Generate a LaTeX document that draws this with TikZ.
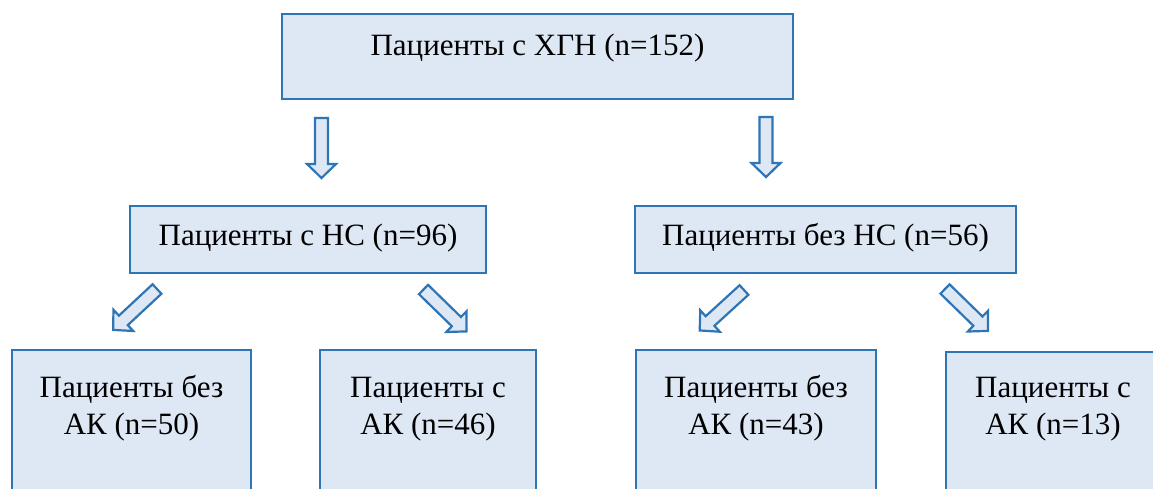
\documentclass[tikz,border=0pt]{standalone}
\usepackage{fontspec}
\setmainfont{Liberation Serif}
\definecolor{boxfill}{HTML}{DEE8F5}
\definecolor{boxline}{HTML}{2E75B6}
\tikzset{
grp/.style={draw=boxline, fill=boxfill, line width=1.5pt,
inner xsep=0pt, inner ysep=0pt, anchor=north,
font=\rmfamily\fontsize{31}{37}\selectfont},
blockarr/.pic={
\draw[draw=boxline, fill=boxfill, line width=2.2pt, line join=miter]
(0,-6.5) -- (46,-6.5) -- (46,-14.5) -- (60,0) -- (46,14.5) -- (46,6.5) -- (0,6.5) -- cycle;
},
}

\begin{document}
\begin{tikzpicture}[x=1pt,y=1pt]
\useasboundingbox (0,0) rectangle (1153,-488);
\clip (0,0) rectangle (1153,-488);
% top level
\node[grp, minimum width=511pt, text height=42pt, text depth=43pt]
(all) at (537.5,-13) {Пациенты с ХГН (n=152)};
% second level
\node[grp, minimum width=356pt, text height=40pt, text depth=27pt]
(ns) at (308,-205) {Пациенты с НС (n=96)};
\node[grp, minimum width=381pt, text height=40pt, text depth=27pt]
(nons) at (825.5,-205) {Пациенты без НС (n=56)};
% third level (box bottoms run off the page)
\node[grp, minimum width=239pt, align=center, text height=85pt, text depth=100pt]
(nsnoak) at (131.5,-349) {Пациенты без\\АК (n=50)};
\node[grp, minimum width=216pt, align=center, text height=85pt, text depth=100pt]
(nsak) at (428,-349) {Пациенты с\\АК (n=46)};
\node[grp, minimum width=240pt, align=center, text height=85pt, text depth=100pt]
(nonsnoak) at (756,-349) {Пациенты без\\АК (n=43)};
\node[grp, minimum width=214pt, align=center, text height=83pt, text depth=100pt]
(nonsak) at (1053,-351) {Пациенты с\\АК (n=13)};
% block arrows
\pic[rotate=-90] at (321.5,-118) {blockarr};
\pic[rotate=-90] at (766,-117) {blockarr};
\pic[rotate=-137] at (157,-289) {blockarr};
\pic[rotate=-44.3] at (423.5,-289.5) {blockarr};
\pic[rotate=-137.6] at (744,-290) {blockarr};
\pic[rotate=-44.3] at (945,-289) {blockarr};
\end{tikzpicture}
\end{document}
